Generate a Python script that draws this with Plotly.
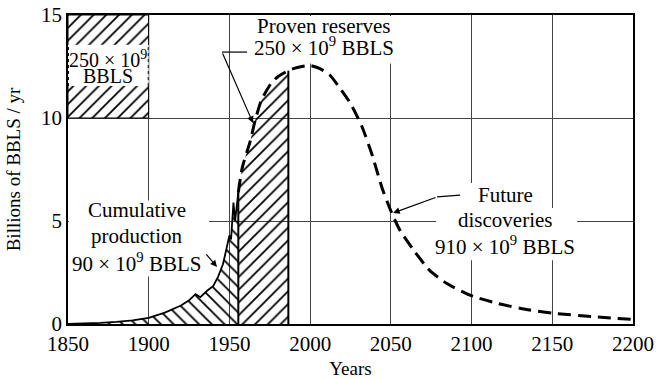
import plotly.graph_objects as go

# Historical production (solid curve), billions of barrels per year
prod_years = [1850, 1860, 1870, 1880, 1890, 1900, 1910, 1920, 1925, 1929, 1932,
              1936, 1940, 1943, 1946, 1948, 1950, 1951, 1952.5, 1953.5, 1955.5]
prod_rate = [0.0, 0.02, 0.05, 0.1, 0.18, 0.3, 0.55, 0.9, 1.15, 1.45, 1.3,
             1.6, 1.85, 2.3, 2.9, 3.6, 4.3, 4.1, 5.9, 5.0, 6.4]

# Projected production (dashed curve)
proj_years = [1955.5, 1958, 1963, 1966, 1970, 1976, 1980, 1986.5, 1992, 2000, 2006,
              2012, 2018, 2025, 2032, 2038, 2045, 2051, 2056, 2064, 2074, 2085,
              2099, 2116, 2136, 2150, 2178, 2200]
proj_rate = [6.4, 7.6, 8.9, 9.9, 10.9, 11.7, 12.0, 12.3, 12.45, 12.55, 12.4,
             12.1, 11.5, 10.7, 9.6, 8.3, 6.5, 5.3, 4.5, 3.6, 2.6, 1.95,
             1.4, 1.0, 0.68, 0.53, 0.34, 0.22]

# End of the proven-reserves band
reserves_end = 1986.5

# Scale key: 50 years x 5 BBLS/yr = 250 x 10^9 BBLS
key_years = 50
key_rate = 5
key_x0, key_y0 = 1850, 10

x_ticks = [1850, 1900, 1950, 2000, 2050, 2100, 2150, 2200]
y_ticks = [0, 5, 10, 15]

FONT = "Liberation Serif"
HATCH = dict(size=9, solidity=0.2, fgcolor="black", fgopacity=1,
             bgcolor="rgba(0,0,0,0)")

fig = go.Figure()

# Scale key box
kx = [key_x0, key_x0 + key_years, key_x0 + key_years, key_x0, key_x0]
ky = [key_y0, key_y0, key_y0 + key_rate, key_y0 + key_rate, key_y0]
fig.add_trace(go.Scatter(
    x=kx, y=ky, mode="lines", fill="toself",
    line=dict(color="black", width=1),
    fillcolor="rgba(0,0,0,0)",
    fillpattern=dict(shape="/", **HATCH),
    hoverinfo="skip", showlegend=False))

# Cumulative production area
fig.add_trace(go.Scatter(
    x=prod_years, y=prod_rate, mode="lines", fill="tozeroy",
    line=dict(color="black", width=1.8),
    fillcolor="rgba(0,0,0,0)",
    fillpattern=dict(shape="\\", **HATCH),
    hoverinfo="skip", showlegend=False))

# Proven reserves area
res_x = [x for x in proj_years if x <= reserves_end]
res_y = [y for x, y in zip(proj_years, proj_rate) if x <= reserves_end]
fig.add_trace(go.Scatter(
    x=res_x, y=res_y, mode="lines", fill="tozeroy",
    line=dict(color="rgba(0,0,0,0)", width=0, shape="spline", smoothing=0.6),
    fillcolor="rgba(0,0,0,0)",
    fillpattern=dict(shape="/", **HATCH),
    hoverinfo="skip", showlegend=False))

# Projected curve
fig.add_trace(go.Scatter(
    x=proj_years, y=proj_rate, mode="lines",
    line=dict(color="black", width=3, dash="13px,7px", shape="spline", smoothing=0.6),
    hoverinfo="skip", showlegend=False))

# Vertical boundaries of the reserves band
for bx, by in [(res_x[0], res_y[0]), (res_x[-1], res_y[-1])]:
    fig.add_trace(go.Scatter(
        x=[bx, bx], y=[0, by], mode="lines",
        line=dict(color="black", width=2),
        hoverinfo="skip", showlegend=False))

shapes = []
# White backgrounds behind labels (hide the grid only)
for x0, x1, y0, y1 in [
    (1962.8, 2052.6, 12.65, 14.95),   # proven reserves
    (1850.5, 1937.4, 2.3, 6.0),       # cumulative production
    (2096.0, 2145.5, 5.6, 6.85),      # "Future"
    (2078.0, 2165.4, 3.1, 5.63),      # "discoveries / 910 x 10^9"
]:
    shapes.append(dict(type="rect", xref="x", yref="y", x0=x0, x1=x1, y0=y0, y1=y1,
                       fillcolor="white", line=dict(width=0), layer="between"))

# White label panel inside the scale key
shapes.append(dict(type="rect", xref="x", yref="y", x0=key_x0, x1=key_x0 + key_years,
                   y0=11.55, y1=13.55, fillcolor="white", line=dict(width=0),
                   layer="above"))
for sx in [key_x0 + 0.3, key_x0 + key_years - 0.3]:
    shapes.append(dict(type="line", xref="x", yref="y", x0=sx, x1=sx, y0=11.55, y1=13.55,
                       line=dict(color="black", width=1, dash="dot"), layer="above"))

# Leader lines
shapes.append(dict(type="line", xref="x", yref="y", x0=1945.4, x1=1960.9, y0=13.2, y1=13.2,
                   line=dict(color="black", width=1.2), layer="above"))
shapes.append(dict(type="line", xref="x", yref="y", x0=2078.6, x1=2092.9, y0=6.17, y1=6.26,
                   line=dict(color="black", width=1.2), layer="above"))

txt = dict(family=FONT, size=21, color="black")
annotations = [
    dict(x=1874.8, y=12.86, text="250 × 10<sup>9</sup>", size=20),
    dict(x=1874.8, y=12.04, text="BBLS", size=20),
    dict(x=2008.7, y=14.45, text="Proven reserves"),
    dict(x=2008.7, y=13.45, text="250 × 10<sup>9</sup> BBLS"),
    dict(x=1892.7, y=5.53, text="Cumulative"),
    dict(x=1892.7, y=4.27, text="production"),
    dict(x=1892.4, y=3.0, text="90 × 10<sup>9</sup> BBLS"),
    dict(x=2120.8, y=6.26, text="Future"),
    dict(x=2120.8, y=5.05, text="discoveries"),
    dict(x=2120.5, y=3.79, text="910 × 10<sup>9</sup> BBLS"),
]
for a in annotations:
    size = a.pop("size", 21)
    a.update(xref="x", yref="y", showarrow=False, font=dict(txt, size=size),
             xanchor="center", yanchor="middle")

arrows = [
    dict(x=1964.6, y=9.76, ax=1945.4, ay=13.2),
    dict(x=1942.3, y=2.77, ax=1934.9, ay=3.45),
    dict(x=2051.4, y=5.39, ax=2078.6, ay=6.17),
]
for a in arrows:
    a.update(xref="x", yref="y", axref="x", ayref="y", text="", showarrow=True,
             arrowhead=2, arrowsize=1.1, arrowwidth=1.2, arrowcolor="black")

fig.update_layout(
    width=657, height=379,
    margin=dict(l=68, r=24, t=15, b=55),
    paper_bgcolor="white", plot_bgcolor="white",
    font=dict(family=FONT, size=21, color="black"),
    shapes=shapes, annotations=annotations + arrows,
    showlegend=False,
)
axis_common = dict(showgrid=True, gridcolor="#444", gridwidth=1,
                   showline=True, mirror=True, linecolor="black", linewidth=1.5,
                   ticks="", zeroline=False, automargin=False,
                   tickfont=dict(family=FONT, size=21, color="black"))
fig.update_xaxes(range=[1850, 2200], tickvals=x_ticks, **axis_common,
                 title=dict(text="Years", font=dict(family=FONT, size=19)))
fig.update_yaxes(range=[0, 15], tickvals=y_ticks, **axis_common,
                 title=dict(text="Billions of BBLS / yr", font=dict(family=FONT, size=19)))

fig.write_html("out.html")
